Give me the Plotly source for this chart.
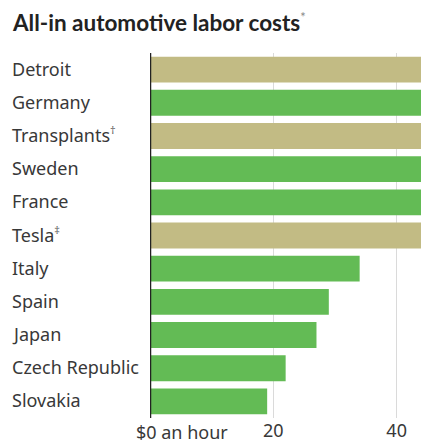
import plotly.graph_objects as go

# Hourly all-in labor cost by location (USD); the first six run past the axis edge
categories = ["Detroit", "Germany", "Transplants", "Sweden", "France", "Tesla",
              "Italy", "Spain", "Japan", "Czech Republic", "Slovakia"]
marks = ["", "", "†", "", "", "‡", "", "", "", "", ""]
costs = [64, 62, 55, 50, 48, 45, 34, 29, 27, 22, 19]
is_us = [True, False, True, False, False, True, False, False, False, False, False]

tick_vals = [20, 40]
tick_text = ["20", "40"]

TAN = "#C2BB84"
GREEN = "#63BB55"
TEXT = "#383838"
FONT = "Noto Sans"
TITLE_FONT = "Lato"

fig = go.Figure(go.Bar(
    x=costs,
    y=categories,
    orientation="h",
    marker=dict(color=[TAN if u else GREEN for u in is_us], line=dict(width=0)),
    hoverinfo="skip",
))

fig.update_layout(
    width=421, height=444,
    margin=dict(l=150, r=0, t=53, b=26),
    paper_bgcolor="white", plot_bgcolor="white",
    bargap=0.22,
    showlegend=False,
    font=dict(family=FONT, size=18, color=TEXT),
    xaxis=dict(range=[0, 43.95], tickvals=tick_vals, ticktext=tick_text,
               showgrid=True, gridcolor="#DADADA", gridwidth=1,
               zeroline=False, showline=False, ticks="", automargin=False,
               tickfont=dict(family=FONT, size=18, color=TEXT), ticklabelstandoff=0),
    yaxis=dict(categoryorder="array", categoryarray=categories[::-1],
               showticklabels=False, showgrid=False, zeroline=False,
               range=[-0.5, len(categories) - 0.5], automargin=False),
)

# Baseline at $0
fig.add_shape(type="line", xref="x", yref="paper", x0=0, x1=0, y0=0, y1=1,
              line=dict(color="#222222", width=2.5), layer="above")

# Left-aligned category labels, with footnote marks where needed
for cat, mark in zip(categories, marks):
    text = cat
    if mark:
        text += f"<sup><span style='font-size:11px;color:#666'>{mark}</span></sup>"
    fig.add_annotation(x=0, xref="paper", y=cat, yref="y", text=text,
                       xanchor="left", xshift=-140, yshift=1, showarrow=False,
                       font=dict(family=FONT, size=18, color=TEXT))

# Unit label for the zero tick
fig.add_annotation(x=0, xref="x", y=0, yref="paper", text="$0 an hour",
                   xanchor="left", yanchor="top", xshift=-16, yshift=0,
                   showarrow=False, font=dict(family=FONT, size=18, color=TEXT))

# Title
fig.add_annotation(x=0, xref="paper", y=1, yref="paper",
                   text="<b>All-in automotive labor costs</b>"
                        "<sup><span style='font-size:13px;color:#888'>*</span></sup>",
                   xanchor="left", yanchor="bottom", xshift=-140, yshift=15,
                   showarrow=False, font=dict(family=TITLE_FONT, size=22.5, color="#222222"))

fig.write_html("out.html")
